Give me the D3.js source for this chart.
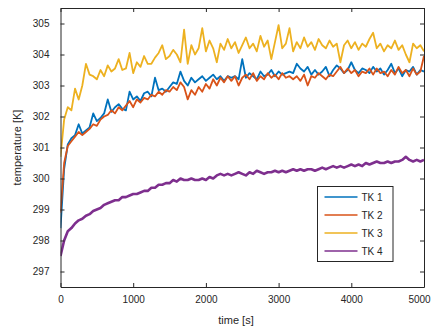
<!DOCTYPE html>
<html>
<head>
<meta charset="utf-8">
<script src="https://cdn.jsdelivr.net/npm/d3@7"></script>
<style>
  body { margin: 0; background: #fff; }
  svg text { font-family: "Liberation Sans", Arial, sans-serif; fill: #262626; }
</style>
</head>
<body>
<div id="chart"></div>
<script>
// time samples [s]
const time = [0, 50, 100, 150, 200, 250, 300, 350, 400, 450, 500, 550, 600, 650, 700, 750, 800, 850, 900, 950,
  1000, 1050, 1100, 1150, 1200, 1250, 1300, 1350, 1400, 1450, 1500, 1550, 1600, 1650, 1700, 1750, 1800, 1850, 1900, 1950,
  2000, 2050, 2100, 2150, 2200, 2250, 2300, 2350, 2400, 2450, 2500, 2550, 2600, 2650, 2700, 2750, 2800, 2850, 2900, 2950,
  3000, 3050, 3100, 3150, 3200, 3250, 3300, 3350, 3400, 3450, 3500, 3550, 3600, 3650, 3700, 3750, 3800, 3850, 3900, 3950,
  4000, 4050, 4100, 4150, 4200, 4250, 4300, 4350, 4400, 4450, 4500, 4550, 4600, 4650, 4700, 4750, 4800, 4850, 4900, 4950, 5000];

const tk1 = [298.4, 300.3, 301.1, 301.3, 301.4, 301.75, 301.45, 301.55, 301.65, 302.1, 301.85, 301.95, 302.1, 302.55, 302.15, 302.3, 302.4, 302.25, 302.2, 302.8,
  302.55, 302.65, 302.5, 302.75, 302.8, 302.65, 303.25, 302.85, 302.9, 302.8, 302.95, 303.1, 303.05, 303.45, 303.15, 303.0, 303.25, 303.1, 303.2, 303.3,
  303.15, 303.25, 303.35, 303.2, 303.3, 303.15, 303.3, 303.25, 303.3, 303.2, 303.85, 303.25, 303.4, 303.3, 303.2, 303.45, 303.3, 303.35, 303.5, 303.3,
  303.45, 303.35, 303.4, 303.45, 303.4, 303.7, 303.55, 303.45, 303.6, 303.35, 303.5, 303.35, 303.45, 303.6, 303.3, 303.5, 303.65, 303.55, 303.4, 303.5,
  303.75, 303.5, 303.4, 303.55, 303.5, 303.4, 303.6, 303.45, 303.55, 303.35, 303.5, 303.7, 303.4, 303.55, 303.3, 303.5, 303.45, 303.6, 303.35, 303.5, 303.45];

const tk2 = [298.9, 300.5, 301.05, 301.2, 301.35, 301.5, 301.4, 301.5, 301.6, 301.75, 301.7, 301.9, 302.0, 302.05, 302.2, 302.1, 302.3, 302.2, 302.35, 302.5,
  302.3, 302.55, 302.45, 302.6, 302.55, 302.7, 302.65, 302.8, 302.7, 302.85, 302.8, 302.95, 302.85, 303.1, 302.95, 302.55, 302.85, 302.7, 302.95, 302.8,
  303.05, 302.9, 303.2, 303.0, 303.25, 303.1, 303.3, 303.15, 303.3, 303.0, 303.25, 303.35, 303.2, 303.4, 303.15, 303.3, 303.2, 303.4, 303.25, 303.35,
  303.2, 303.4, 303.25, 303.3, 303.2, 303.3, 303.15, 303.35, 303.0, 303.3, 303.25, 303.4, 303.3, 303.2, 303.35, 303.3, 303.45, 303.6, 303.4, 303.55,
  303.4, 303.5, 303.3, 303.45, 303.4, 303.55, 303.35, 303.55, 303.4, 303.45, 303.3, 303.5, 303.35, 303.6, 303.4, 303.5, 303.3, 303.55, 303.35, 303.45, 303.95];

const tk3 = [300.7, 301.9, 302.3, 302.2, 302.9, 302.55, 303.0, 303.7, 303.35, 303.3, 303.2, 303.5, 303.3, 303.65, 303.45, 303.55, 303.85, 303.5, 303.55, 304.05,
  303.4, 303.75, 303.6, 303.95, 303.7, 303.7, 303.9, 304.05, 304.3, 303.85, 303.95, 304.15, 304.0, 303.75, 304.8, 303.7, 304.3, 304.0, 304.2, 304.85,
  304.1, 304.45, 304.2, 303.75, 304.35, 304.15, 304.5, 304.2, 304.4, 304.05, 304.3, 304.55, 304.2, 304.35, 304.1, 304.6, 304.25, 304.45, 303.85, 304.4,
  304.95, 304.2, 304.35, 304.85, 304.1, 304.4, 304.2, 304.55, 304.25, 304.4, 304.15, 304.5, 304.3, 304.2, 304.45, 304.25, 304.35, 303.75, 304.3, 304.45,
  304.2, 304.4, 304.15, 304.35, 304.25, 304.5, 304.7, 304.2, 304.35, 304.1, 304.3, 304.2, 304.45, 304.15, 304.3, 304.0, 303.75, 304.35, 304.2, 304.3, 304.1];

const tk4 = [297.5, 298.0, 298.3, 298.4, 298.55, 298.65, 298.7, 298.8, 298.85, 298.95, 299.0, 299.05, 299.15, 299.2, 299.25, 299.3, 299.3, 299.4, 299.4, 299.45,
  299.5, 299.5, 299.55, 299.6, 299.6, 299.7, 299.7, 299.8, 299.8, 299.85, 299.85, 299.95, 299.9, 300.0, 299.95, 299.95, 300.0, 299.95, 299.95, 300.0,
  299.95, 300.05, 300.0, 300.1, 300.15, 300.1, 300.15, 300.1, 300.15, 300.2, 300.15, 300.1, 300.2, 300.15, 300.25, 300.2, 300.15, 300.2, 300.2, 300.25,
  300.2, 300.25, 300.2, 300.25, 300.3, 300.25, 300.3, 300.25, 300.3, 300.3, 300.25, 300.3, 300.35, 300.3, 300.35, 300.4, 300.35, 300.4, 300.35, 300.4,
  300.45, 300.4, 300.45, 300.4, 300.5, 300.45, 300.5, 300.55, 300.5, 300.5, 300.55, 300.5, 300.55, 300.55, 300.6, 300.7, 300.6, 300.55, 300.6, 300.55, 300.6];

const seriesNames = ['TK 1', 'TK 2', 'TK 3', 'TK 4'];
const seriesColors = ['#0072BD', '#D95319', '#EDB120', '#7E2F8E'];
const xTicks = [0, 1000, 2000, 3000, 4000, 5000];
const yTicks = [297, 298, 299, 300, 301, 302, 303, 304, 305];

const width = 431, height = 329;
const margin = {top: 8, right: 7, bottom: 42, left: 60.5};
const axisColor = '#262626';

const svg = d3.select('#chart').append('svg')
  .attr('width', width)
  .attr('height', height);

const x = d3.scaleLinear().domain([0, 5000]).range([margin.left, width - margin.right]);
const y = d3.scaleLinear().domain([296.5, 305.5]).range([height - margin.bottom, margin.top]);

const plot = svg.append('g');
plot.append('clipPath').attr('id', 'clip')
  .append('rect')
  .attr('x', x(0)).attr('y', y(305.5))
  .attr('width', x(5000) - x(0)).attr('height', y(296.5) - y(305.5));

const line = d3.line()
  .x((d, i) => x(time[i]))
  .y(d => y(d));

// TK 4 is much less noisy but drawn as a thicker band in the original
const lineWidths = [1.8, 1.8, 1.8, 2.6];

const allSeries = [tk1, tk2, tk3, tk4];
plot.append('g').attr('clip-path', 'url(#clip)')
  .selectAll('path')
  .data(allSeries)
  .enter()
  .append('path')
  .attr('d', d => line(d))
  .attr('fill', 'none')
  .attr('stroke', (d, i) => seriesColors[i])
  .attr('stroke-width', (d, i) => lineWidths[i])
  .attr('stroke-linejoin', 'round');

// axes, ticks pointing inwards, box on
const tickLen = 4;
const styleAxis = g => {
  g.select('.domain').attr('stroke', axisColor);
  g.selectAll('.tick line').attr('stroke', axisColor);
  g.selectAll('.tick text').style('font-size', '10px').attr('fill', axisColor);
};

const xAxis = svg.append('g')
  .attr('transform', `translate(0,${y(296.5)})`)
  .call(d3.axisBottom(x).tickValues(xTicks).tickFormat(d3.format('d')).tickSizeInner(-tickLen).tickSizeOuter(0).tickPadding(9))
  .call(styleAxis);
// the last label is pulled in so that it stays inside the figure
xAxis.selectAll('.tick text').filter(d => d === 5000).attr('dx', -5);

svg.append('g')
  .attr('transform', `translate(0,${y(305.5)})`)
  .call(d3.axisTop(x).tickValues(xTicks).tickSizeInner(-tickLen).tickSizeOuter(0).tickFormat(''))
  .call(styleAxis);

svg.append('g')
  .attr('transform', `translate(${x(0)},0)`)
  .call(d3.axisLeft(y).tickValues(yTicks).tickFormat(d3.format('d')).tickSizeInner(-tickLen).tickSizeOuter(0).tickPadding(11))
  .call(styleAxis);

svg.append('g')
  .attr('transform', `translate(${x(5000)},0)`)
  .call(d3.axisRight(y).tickValues(yTicks).tickSizeInner(-tickLen).tickSizeOuter(0).tickFormat(''))
  .call(styleAxis);

// axis labels
svg.append('text')
  .attr('x', 236)
  .attr('y', 324)
  .attr('text-anchor', 'middle')
  .style('font-size', '11px')
  .text('time [s]');

svg.append('text')
  .attr('transform', `translate(21,${(y(296.5) + y(305.5)) / 2}) rotate(-90)`)
  .attr('text-anchor', 'middle')
  .style('font-size', '11px')
  .text('temperature [K]');

// legend
const legend = svg.append('g').attr('transform', 'translate(317.5,186.5)');
legend.append('rect')
  .attr('width', 75.5)
  .attr('height', 75)
  .attr('fill', '#fff')
  .attr('stroke', axisColor)
  .attr('stroke-width', 1);

const entry = legend.selectAll('g.entry')
  .data(seriesNames)
  .enter()
  .append('g')
  .attr('class', 'entry')
  .attr('transform', (d, i) => `translate(0,${10.5 + i * 18})`);

entry.append('line')
  .attr('x1', 7).attr('x2', 40)
  .attr('stroke', (d, i) => seriesColors[i])
  .attr('stroke-width', 1.6);

entry.append('text')
  .attr('x', 44)
  .attr('dy', '0.35em')
  .style('font-size', '10px')
  .text(d => d);
</script>
</body>
</html>
